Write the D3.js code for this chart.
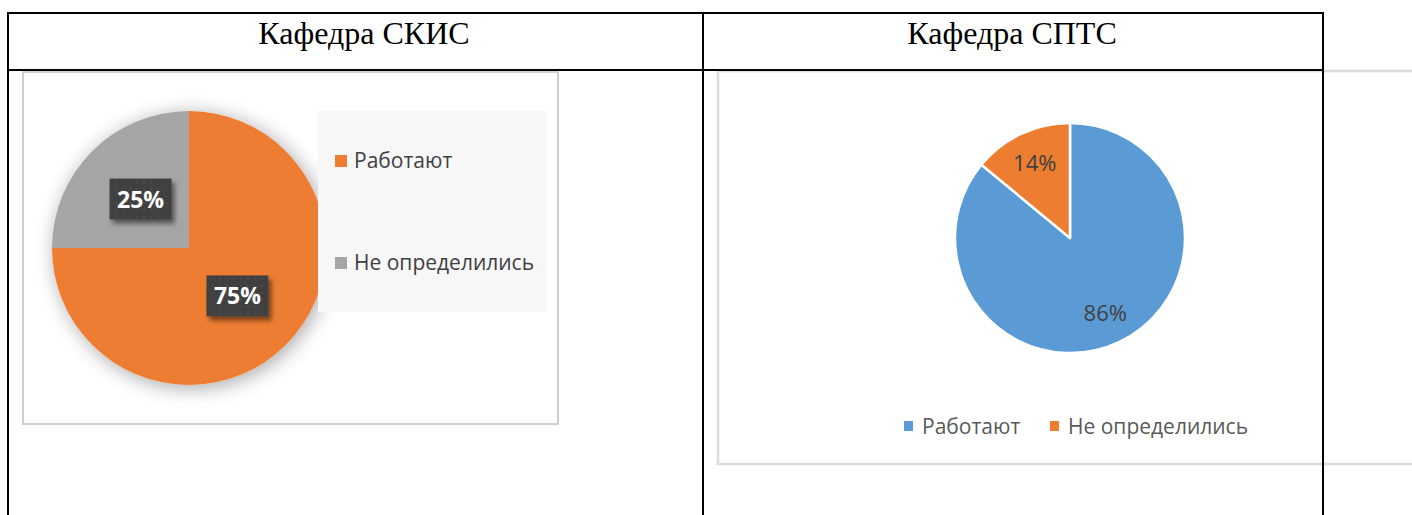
<!DOCTYPE html>
<html>
<head>
<meta charset="utf-8">
<script src="https://cdn.jsdelivr.net/npm/d3@7"></script>
<style>
  html, body { margin: 0; padding: 0; background: #fff; }
  svg { display: block; }
</style>
</head>
<body>
<div id="chart"></div>
<script>
const titles = ["Кафедра СКИС", "Кафедра СПТС"];
const categories = ["Работают", "Не определились"];
const skisValues = [75, 25];
const sptsValues = [86, 14];
const skisColors = ["#ed7d31", "#a5a5a5"];
const sptsColors = ["#5b9bd5", "#ed7d31"];

const W = 1412, H = 515;
const svg = d3.select('#chart').append('svg')
    .attr('width', W).attr('height', H);

const defs = svg.append('defs');

// soft glow behind the left pie
const glow = defs.append('filter').attr('id', 'glow')
    .attr('x', '-30%').attr('y', '-30%').attr('width', '160%').attr('height', '160%');
glow.append('feGaussianBlur').attr('in', 'SourceAlpha').attr('stdDeviation', 10).attr('result', 'b');
glow.append('feOffset').attr('in', 'b').attr('dx', 3).attr('dy', 3).attr('result', 'o');
glow.append('feComponentTransfer').attr('in', 'o').attr('result', 's')
    .append('feFuncA').attr('type', 'linear').attr('slope', 0.35);
const gm = glow.append('feMerge');
gm.append('feMergeNode').attr('in', 's');
gm.append('feMergeNode').attr('in', 'SourceGraphic');

// label box shadow
const boxSh = defs.append('filter').attr('id', 'boxsh')
    .attr('x', '-20%').attr('y', '-20%').attr('width', '150%').attr('height', '160%');
boxSh.append('feGaussianBlur').attr('in', 'SourceAlpha').attr('stdDeviation', 2.5).attr('result', 'b');
boxSh.append('feOffset').attr('in', 'b').attr('dx', 3).attr('dy', 4).attr('result', 'o');
boxSh.append('feComponentTransfer').attr('in', 'o').attr('result', 's')
    .append('feFuncA').attr('type', 'linear').attr('slope', 0.5);
const bm = boxSh.append('feMerge');
bm.append('feMergeNode').attr('in', 's');
bm.append('feMergeNode').attr('in', 'SourceGraphic');

// dotted texture for label boxes
const pat = defs.append('pattern').attr('id', 'dots')
    .attr('width', 7).attr('height', 7).attr('patternUnits', 'userSpaceOnUse');
pat.append('rect').attr('width', 7).attr('height', 7).attr('fill', '#3f3f3f');
pat.append('circle').attr('cx', 3.5).attr('cy', 3.5).attr('r', 0.9).attr('fill', '#565656');

// chart frames
svg.append('rect')
    .attr('x', 23).attr('y', 72).attr('width', 535).attr('height', 352)
    .attr('fill', '#fff').attr('stroke', '#cfcfcf').attr('stroke-width', 2);
svg.append('rect')
    .attr('x', 718).attr('y', 71).attr('width', 760).attr('height', 393)
    .attr('fill', '#fff').attr('stroke', '#dcdcdc').attr('stroke-width', 2.5);

const pie = d3.pie().sort(null).value(d => d.value);

// ---- left chart: СКИС
const skisData = categories.map((c, i) => ({ name: c, value: skisValues[i], color: skisColors[i] }));
const r1 = 137;
const arc1 = d3.arc().innerRadius(0).outerRadius(r1);
const g1 = svg.append('g').attr('transform', 'translate(189,248)');
g1.append('g').attr('filter', 'url(#glow)')
    .selectAll('path').data(pie(skisData)).enter().append('path')
    .attr('d', arc1).attr('fill', d => d.data.color);

// legend box
svg.append('rect').attr('x', 318).attr('y', 111).attr('width', 228).attr('height', 201).attr('fill', '#f7f7f7');
const leg1 = svg.append('g');
leg1.selectAll('g').data(skisData).enter().append('g')
    .attr('transform', (d, i) => `translate(335,${155 + i * 102})`)
    .each(function (d) {
        const g = d3.select(this);
        g.append('rect').attr('width', 12).attr('height', 12).attr('fill', d.color);
        g.append('text').attr('x', 19).attr('y', 13)
            .attr('font-family', 'Open Sans, sans-serif').attr('font-size', 21)
            .attr('fill', '#404040').text(d.name);
    });

const lab1 = g1.selectAll('g.lab').data(pie(skisData)).enter().append('g')
    .attr('class', 'lab')
    .attr('transform', d => `translate(${arc1.centroid(d)})`);
lab1.append('rect').attr('x', -31).attr('y', -21).attr('width', 62).attr('height', 41)
    .attr('fill', 'url(#dots)').attr('filter', 'url(#boxsh)');
lab1.append('text').attr('text-anchor', 'middle').attr('y', 8)
    .attr('font-family', 'Open Sans, sans-serif').attr('font-size', 23).attr('font-weight', 'bold')
    .attr('fill', '#fff').text(d => d.data.value + '%');

// ---- right chart: СПТС
const sptsData = categories.map((c, i) => ({ name: c, value: sptsValues[i], color: sptsColors[i] }));
const r2 = 115;
const arc2 = d3.arc().innerRadius(0).outerRadius(r2);
const labArc2 = d3.arc().innerRadius(r2 * 0.72).outerRadius(r2 * 0.72);
const g2 = svg.append('g').attr('transform', 'translate(1070,238)');
g2.selectAll('path').data(pie(sptsData)).enter().append('path')
    .attr('d', arc2).attr('fill', d => d.data.color)
    .attr('stroke', '#fff').attr('stroke-width', 2.5).attr('stroke-linejoin', 'round');
g2.selectAll('text').data(pie(sptsData)).enter().append('text')
    .attr('transform', d => `translate(${labArc2.centroid(d)})`)
    .attr('text-anchor', 'middle').attr('dy', 8)
    .attr('font-family', 'Open Sans, sans-serif').attr('font-size', 22)
    .attr('fill', '#404040').text(d => d.value + '%');

const leg2x = [904, 1050];
const leg2 = svg.append('g');
leg2.selectAll('g').data(sptsData).enter().append('g')
    .attr('transform', (d, i) => `translate(${leg2x[i]},421)`)
    .each(function (d) {
        const g = d3.select(this);
        g.append('rect').attr('width', 9).attr('height', 10).attr('fill', d.color);
        g.append('text').attr('x', 18).attr('y', 13)
            .attr('font-family', 'Open Sans, sans-serif').attr('font-size', 21)
            .attr('fill', '#595959').text(d.name);
    });

// ---- table
const tbl = svg.append('g').attr('stroke', '#000').attr('stroke-width', 2);
tbl.append('line').attr('x1', 7).attr('x2', 1324).attr('y1', 13).attr('y2', 13);
tbl.append('line').attr('x1', 7).attr('x2', 1324).attr('y1', 70).attr('y2', 70);
[8, 703, 1323].forEach(x => {
    tbl.append('line').attr('x1', x).attr('x2', x).attr('y1', 12).attr('y2', H);
});

svg.selectAll('text.title').data(titles).enter().append('text')
    .attr('class', 'title')
    .attr('x', (d, i) => [364, 1012][i]).attr('y', 44)
    .attr('text-anchor', 'middle')
    .attr('font-family', 'Liberation Serif, Times New Roman, serif').attr('font-size', 32)
    .attr('fill', '#000').text(d => d);
</script>
</body>
</html>
